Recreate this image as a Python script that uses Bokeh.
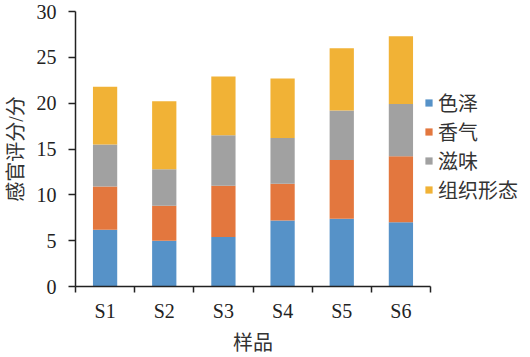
import numpy as np
from bokeh.plotting import figure
from bokeh.models import (ColumnDataSource, FixedTicker, Legend, LegendItem,
                          Range1d)
from bokeh.embed import file_html
from bokeh.resources import INLINE

# ---- data ----
samples = ["S1", "S2", "S3", "S4", "S5", "S6"]
series = ["色泽", "香气", "滋味", "组织形态"]
color_vals = [6.2, 5.0, 5.4, 7.2, 7.4, 7.0]      # 色泽
aroma_vals = [4.7, 3.8, 5.6, 4.0, 6.4, 7.2]      # 香气
taste_vals = [4.6, 4.0, 5.5, 5.0, 5.4, 5.7]      # 滋味
texture_vals = [6.3, 7.4, 6.4, 6.5, 6.8, 7.4]    # 组织形态
y_ticks = [0, 5, 10, 15, 20, 25, 30]

colors = ["#5692C8", "#E3773E", "#A1A1A1", "#F1B236"]
serif = "Liberation Serif, Times New Roman, serif"
cjk_title = "Liberation Serif, Noto Sans CJK SC"
cjk_legend = "Noto Sans CJK SC"

xs = np.arange(len(samples)) + 0.5
src = ColumnDataSource(dict(x=xs, s0=color_vals, s1=aroma_vals,
                            s2=taste_vals, s3=texture_vals))

p = figure(frame_width=355, frame_height=275, output_backend="svg",
           toolbar_location=None,
           x_range=Range1d(0, len(samples)), y_range=Range1d(0, 30),
           min_border_left=75, min_border_right=0, min_border_top=11,
           min_border_bottom=10)
p.outline_line_color = None
p.xgrid.grid_line_color = None
p.ygrid.grid_line_color = None

rs = p.vbar_stack(["s0", "s1", "s2", "s3"], x="x", width=0.41, color=colors,
                  line_color=None, source=src)

# y axis
ya = p.yaxis[0]
ya.ticker = FixedTicker(ticks=y_ticks)
ya.major_tick_out = 7
ya.major_tick_in = 0
ya.minor_tick_out = 0
ya.minor_tick_in = 0
ya.axis_line_width = 1.5
ya.axis_line_color = "#222222"
ya.major_tick_line_width = 1.5
ya.major_tick_line_color = "#222222"
ya.major_label_text_font = serif
ya.major_label_text_font_size = "20px"
ya.major_label_text_color = "#222222"
ya.major_label_standoff = 12
ya.axis_label = "感官评分/分"
ya.axis_label_text_font = cjk_title
ya.axis_label_text_font_size = "20px"
ya.axis_label_text_font_style = "normal"
ya.axis_label_text_color = "#333333"
ya.axis_label_standoff = 7

# x axis
xa = p.xaxis[0]
xa.ticker = FixedTicker(ticks=list(xs), minor_ticks=list(range(len(samples) + 1)))
xa.major_label_overrides = {float(x): s for x, s in zip(xs, samples)}
xa.major_tick_out = 0
xa.major_tick_in = 0
xa.minor_tick_out = 6
xa.minor_tick_in = 0
xa.minor_tick_line_width = 1.5
xa.minor_tick_line_color = "#222222"
xa.axis_line_width = 1.5
xa.axis_line_color = "#222222"
xa.major_label_text_font = serif
xa.major_label_text_font_size = "20px"
xa.major_label_text_color = "#222222"
xa.major_label_standoff = 7
xa.axis_label = "样品"
xa.axis_label_text_font = cjk_title
xa.axis_label_text_font_size = "20px"
xa.axis_label_text_font_style = "normal"
xa.axis_label_text_color = "#333333"
xa.axis_label_standoff = 7

legend = Legend(items=[LegendItem(label=s, renderers=[r]) for s, r in zip(series, rs)],
                location=(-6, 82), orientation="vertical")
legend.border_line_color = None
legend.background_fill_alpha = 0
legend.padding = 0
legend.margin = 0
legend.spacing = 0
legend.label_height = 26
legend.glyph_width = 9
legend.glyph_height = 9
legend.label_standoff = 5
legend.label_text_font = cjk_legend
legend.label_text_font_size = "20px"
legend.label_text_color = "#333333"
p.add_layout(legend, "right")

open("out.html", "w").write(file_html(p, INLINE))
